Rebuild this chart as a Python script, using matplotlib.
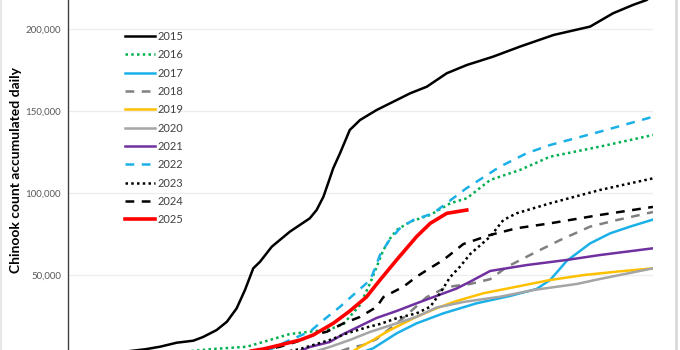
import numpy as np
import matplotlib
matplotlib.use('Agg')
import matplotlib.pyplot as plt
from matplotlib.ticker import StrMethodFormatter
from matplotlib.lines import Line2D

plt.rcParams['font.family'] = ['Lato', 'DejaVu Sans']

# Data (day of season, cumulative Chinook count)
days_2015 = [5, 10, 15.8, 18.9, 22.3, 25.7, 27.7, 30.5, 32.6, 34.6, 36.3, 38.0, 39.4, 41.8, 45.5,
             49.6, 51.0, 52.4, 53.7, 54.4, 55.8, 57.8, 59.9, 63.3, 70.2, 73.6, 77.7, 81.8, 87.2,
             92.7, 99.6, 107.1, 111.8, 115.9, 118.7, 120]
count_2015 = [1500, 3000, 5000, 6580, 9010, 10230, 12480, 16750, 21800, 29960, 41100, 54300, 58340,
              67480, 76600, 84770, 89830, 97930, 109100, 115200, 124400, 138550, 144600, 150700,
              160900, 164900, 173100, 178100, 183200, 189300, 196400, 201500, 209600, 214700,
              217700, 221000]

days_2016 = [20, 29.7, 36.7, 41.4, 45.5, 49.6, 53.7, 56.5, 59.9, 62.0, 64.7, 66.1, 67.4, 70.2, 74.3,
             78.4, 81.8, 86.6, 92.7, 98.9, 109.1, 120]
count_2016 = [2500, 5180, 6580, 10660, 14300, 15700, 17170, 20400, 32000, 45400, 65500, 72600, 77650,
              82700, 86800, 93900, 96950, 108100, 114200, 122300, 128400, 135500]

days_2017 = [55, 59.3, 62.6, 67.4, 71.5, 77.0, 83.8, 90.7, 96.1, 98.9, 102.3, 107.1, 111.2, 115.3, 120]
count_2017 = [500, 2130, 5600, 14700, 20800, 26900, 33000, 37500, 41700, 47200, 58800, 69500, 75600,
              79700, 84000]

days_2018 = [50, 54.8, 57.8, 60.6, 63.3, 68.8, 73.6, 77.7, 82.5, 86.6, 90.0, 95.5, 101.0, 107.1, 112.6, 120]
count_2018 = [1000, 2740, 5790, 7610, 11270, 24100, 36800, 42900, 44800, 47700, 55100, 63500, 71600,
              79700, 83700, 88600]

days_2019 = [53, 57.8, 59.9, 62.6, 65.4, 67.4, 71.5, 75.6, 79.7, 85.2, 92.0, 98.9, 105.8, 112.6, 120]
count_2019 = [800, 2740, 6400, 10660, 15700, 18750, 24800, 30000, 34400, 39100, 43100, 47200, 50200,
              52300, 54300]

days_2020 = [45, 49.6, 53.7, 57.8, 61.9, 67.4, 71.5, 75.6, 81.1, 88.6, 95.5, 104.4, 109.1, 120]
count_2020 = [1000, 2740, 6400, 10660, 15500, 20800, 24800, 30400, 33800, 37000, 41100, 44800, 47800,
              54300]

days_2021 = [42, 46.6, 49.6, 53.7, 56.5, 59.9, 63.3, 67.4, 71.5, 74.3, 79.7, 82.5, 86.6, 94.1, 102.3,
             109.1, 120]
count_2021 = [1000, 2740, 6400, 9440, 14300, 19200, 24100, 28300, 33000, 36100, 42000, 46200, 52700,
              56300, 59400, 62400, 66500]

days_2022 = [35, 40.4, 45.5, 49.6, 52.4, 55.8, 59.2, 62.0, 63.0, 64.0, 65.7, 68.1, 70.8, 74.9, 77.7,
             81.8, 88.6, 94.1, 98.9, 109.1, 120]
count_2022 = [1500, 3350, 10660, 15700, 22800, 30900, 39900, 47200, 54500, 62400, 70500, 78700, 83700,
              87800, 94100, 103200, 116200, 124400, 129400, 137500, 146600]

days_2023 = [40, 44.5, 47.6, 51.0, 53.7, 57.2, 61.2, 64.0, 67.4, 71.5, 74.3, 76.3, 78.4, 80.4, 82.5,
             86.6, 89.3, 92.0, 98.9, 109.1, 120]
count_2023 = [1500, 3350, 5180, 8220, 10660, 14700, 18300, 20400, 23900, 26900, 30900, 39100, 49000,
              55300, 63000, 73600, 83700, 87800, 93900, 102000, 109100]

days_2024 = [33, 38.4, 43.5, 46.9, 50.3, 53.1, 56.5, 59.9, 63.3, 64.7, 68.8, 71.5, 74.3, 77.0, 81.1,
             86.6, 92.0, 98.9, 109.1, 120]
count_2024 = [1500, 3350, 6580, 9620, 13700, 15700, 20800, 24700, 30800, 36800, 43100, 49200, 54500,
              59400, 69100, 74600, 78700, 81700, 86800, 91700]

days_2025 = [30, 36.3, 40.1, 43.5, 47.6, 50.3, 54.4, 57.8, 61.2, 64.0, 67.4, 71.5, 74.3, 77.7, 81.8]
count_2025 = [1500, 3350, 5180, 7610, 10660, 13700, 20800, 28300, 36800, 47200, 59400, 73600, 81700,
              87800, 89800]

series = [
    ('2015', days_2015, count_2015, '#000000', '-', 1.8),
    ('2016', days_2016, count_2016, '#00B050', (0, (1, 1.3)), 1.8),
    ('2017', days_2017, count_2017, '#1CB0E8', '-', 1.8),
    ('2018', days_2018, count_2018, '#808080', (0, (3.5, 3)), 1.8),
    ('2019', days_2019, count_2019, '#FFC000', '-', 1.8),
    ('2020', days_2020, count_2020, '#A5A5A5', '-', 1.8),
    ('2021', days_2021, count_2021, '#7030A0', '-', 1.8),
    ('2022', days_2022, count_2022, '#1CB0E8', (0, (3.5, 3)), 1.8),
    ('2023', days_2023, count_2023, '#000000', (0, (1, 1.3)), 1.8),
    ('2024', days_2024, count_2024, '#000000', (0, (3.5, 3)), 1.8),
    ('2025', days_2025, count_2025, '#FF0000', '-', 2.6),
]

fig = plt.figure(figsize=(6.8, 3.5), dpi=100)
ax = fig.add_axes([68 / 680, 0, 585 / 680, 1])

for label, d, c, color, ls, lw in series:
    ax.plot(d, c, color=color, linestyle=ls, linewidth=lw, label=label)

ax.set_xlim(0, 120)
ax.set_ylim(4570, 217700)
ax.set_yticks([50000, 100000, 150000, 200000])
ax.yaxis.set_major_formatter(StrMethodFormatter('{x:,.0f}'))
ax.tick_params(axis='y', length=0, pad=5, labelsize=7, labelcolor='#595959')
ax.set_xticks([])
ax.grid(axis='y', color='#EDEDED', linewidth=0.9)
ax.set_axisbelow(True)

for s in ['top', 'right', 'bottom']:
    ax.spines[s].set_visible(False)
ax.spines['left'].set_color('#404040')
ax.spines['left'].set_linewidth(1.0)

ax.set_ylabel('Chinook count accumulated daily', fontsize=10, fontweight='bold', color='#000000')
ax.yaxis.set_label_coords(-0.079, 0.515)

ax.legend(loc='upper left', bbox_to_anchor=(125 / 680, 1 - 31 / 350), bbox_transform=fig.transFigure,
          frameon=False, fontsize=8, labelspacing=0.66, handlelength=2.7, handletextpad=0.2,
          borderpad=0, borderaxespad=0, labelcolor='#404040')

# light frame edges of the original chart
fig.add_artist(Line2D([675.5 / 680, 675.5 / 680], [0, 1], transform=fig.transFigure,
                      color='#D9D9D9', linewidth=2))
fig.add_artist(Line2D([1 / 680, 1 / 680], [0, 1], transform=fig.transFigure,
                      color='#E6E6E6', linewidth=1.5))

fig.savefig('out.png', dpi=100)
